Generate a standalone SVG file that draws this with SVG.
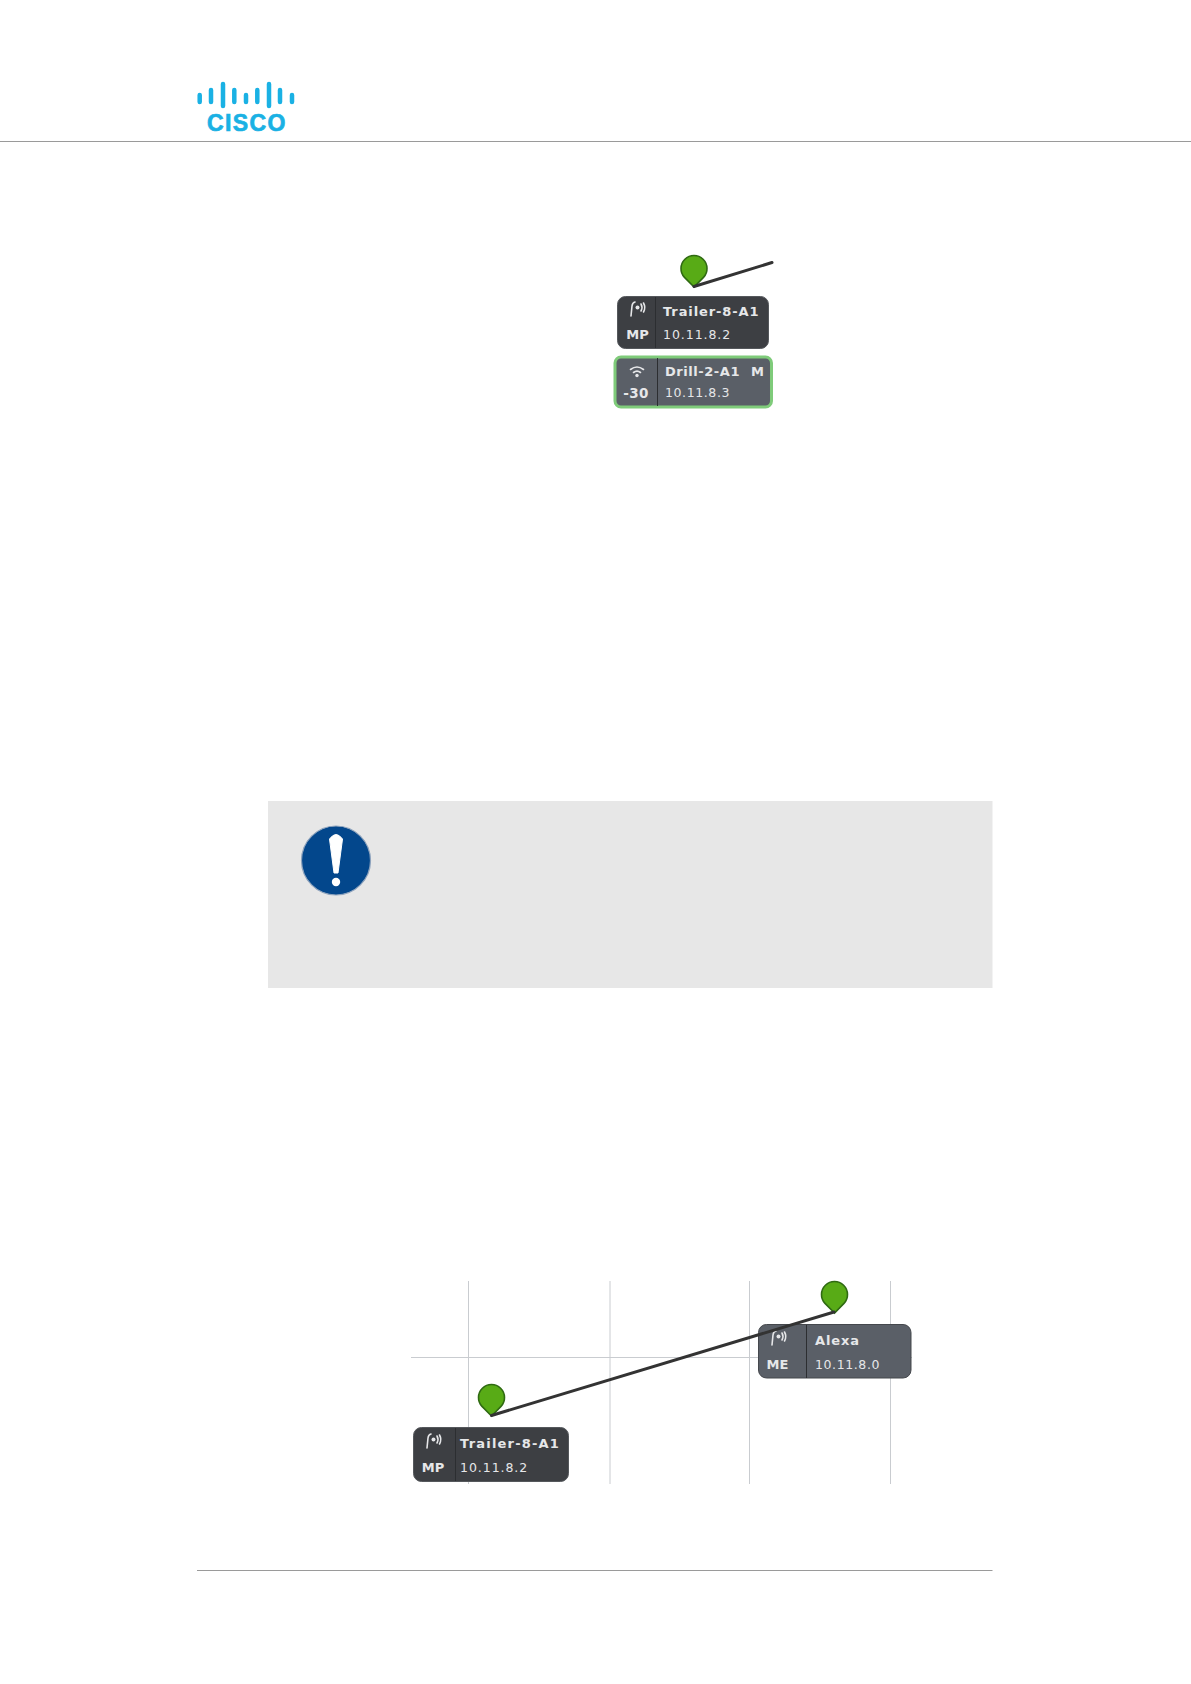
<svg xmlns="http://www.w3.org/2000/svg" width="1191" height="1684" viewBox="0 0 1191 1684">
<style>
text{font-family:"DejaVu Sans",sans-serif;fill:#e6e7e9}
.b{font-weight:bold}
.n{font-size:13px;font-weight:bold;letter-spacing:.9px}
.ip{font-size:12.5px;letter-spacing:.95px}
.ip2{font-size:12.5px;letter-spacing:.6px}
.r{font-size:13px;font-weight:bold;text-anchor:middle}
.dark{fill:#3d3f43;stroke:#55585c;stroke-width:1}
.grey{fill:#5a5f67;stroke:#45484d;stroke-width:1}
.pin{fill:#58ab16;stroke:#2f6a12;stroke-width:1.6}
.link{fill:none;stroke:#333;stroke-width:3;stroke-linecap:round}
.grid{stroke:#c9ccd0;stroke-width:1;fill:none}
.div{stroke:#2c2e31;stroke-width:1}
.ico{fill:none;stroke:#e6e7e9;stroke-width:1.6;stroke-linecap:round}
.dot{fill:#e6e7e9}
.bar{stroke:#1ab1e4;stroke-width:4.500;stroke-linecap:round}
</style>
<defs>
<path id="pin" class="pin" d="M0 0 L-9.5 -9.6 A13 13 0 1 1 9.500 -9.600 Z"/>
<g id="radio">
<path class="ico" d="M-6 7 L-5 -3 Q-4.500 -6.500 -2 -7"/>
<circle class="dot" cx="0.500" cy="-1.500" r="2"/>
<path class="ico" d="M4 -5 Q6 -1.500 4 2M6.500 -6 Q9 -1.500 6.500 3"/>
</g>
</defs>
<g id="header">
<path class="bar" d="M199.700 95v7M211 90v12M223 84v22M234.300 90v12M246 95v7M257.300 90v12M269 84v22M280 90v12M292 95v7"/>
<text x="207" y="131" font-size="23" class="b" style="font-family:'Liberation Sans',sans-serif;fill:#1ab1e4;stroke:#1ab1e4;stroke-width:.7;letter-spacing:1.400px">CISCO</text>
<path d="M0 141.500H1191" stroke="#9a9a9a" stroke-width="1"/>
</g>
<g id="grid"><path class="grid" d="M468.500 1281V1484M610 1281V1484M749.500 1281V1484M890.500 1281V1484M411 1357.500H912"/></g>
<g id="pin-top"><use href="#pin" x="694" y="287"/></g>
<g id="node-trailer-top">
<rect class="dark" x="617.500" y="296.500" width="151" height="52" rx="8"/>
<path class="div" d="M655.500 297V348"/>
<use href="#radio" x="637" y="309"/>
<text class="r" x="637.500" y="339">MP</text>
<text class="n" x="663" y="316">Trailer-8-A1</text>
<text class="ip" x="663" y="339">10.11.8.2</text>
</g>
<g id="node-drill">
<rect x="615" y="357" width="156.500" height="50" rx="6" fill="#5a5f67" stroke="#7fcb7a" stroke-width="3"/>
<path class="div" d="M657.500 358V406"/>
<path class="ico" d="M630.500 369.500Q637 364.500 643.500 369.500M633.500 372.500Q637 369.800 640.500 372.500"/>
<circle class="dot" cx="637" cy="375.500" r="1.700"/>
<text class="r" x="636" y="398" style="font-size:13.500px;letter-spacing:.3px">-30</text>
<text class="n" x="665" y="376" style="letter-spacing:.55px">Drill-2-A1</text>
<text class="n" x="751" y="376">M</text>
<text class="ip2" x="665" y="397">10.11.8.3</text>
</g>
<g id="callout">
<rect x="268" y="801" width="724.500" height="187" fill="#e7e7e7"/>
<circle cx="336" cy="860.500" r="34.500" fill="#03478c" stroke="#8ea3bd" stroke-width="1.200"/>
<path d="M329.500 839Q336 830 342.500 839L338 873H334Z" fill="#fff" stroke="#fff" stroke-linejoin="round"/>
<circle cx="336" cy="882" r="4.200" fill="#fff"/>
</g>
<g id="pin-trailer"><use href="#pin" x="491.500" y="1416"/></g>
<g id="pin-alexa"><use href="#pin" x="834.500" y="1313"/></g>
<g id="node-trailer">
<rect class="dark" x="413.500" y="1427.500" width="155" height="54" rx="8"/>
<path class="div" d="M455.500 1428V1481"/>
<use href="#radio" x="433" y="1441"/>
<text class="r" x="433" y="1472">MP</text>
<text class="n" x="460" y="1448" style="letter-spacing:1.200px">Trailer-8-A1</text>
<text class="ip" x="460" y="1472">10.11.8.2</text>
</g>
<g id="node-alexa">
<rect class="grey" x="758.500" y="1324.500" width="152.500" height="53.500" rx="8"/>
<path class="div" d="M806.500 1325V1378"/>
<use href="#radio" x="778" y="1338"/>
<text class="r" x="777.500" y="1369">ME</text>
<text class="n" x="815" y="1345">Alexa</text>
<text class="ip2" x="815" y="1369">10.11.8.0</text>
</g>
<g id="connectors">
<path class="link" d="M694 286.500L772 262.500"/>
<path class="link" d="M491.500 1415.500L834 1312"/>
</g>
<g id="footer"><path d="M197 1570.500H992.500" stroke="#9a9a9a" stroke-width="1"/></g>
</svg>
